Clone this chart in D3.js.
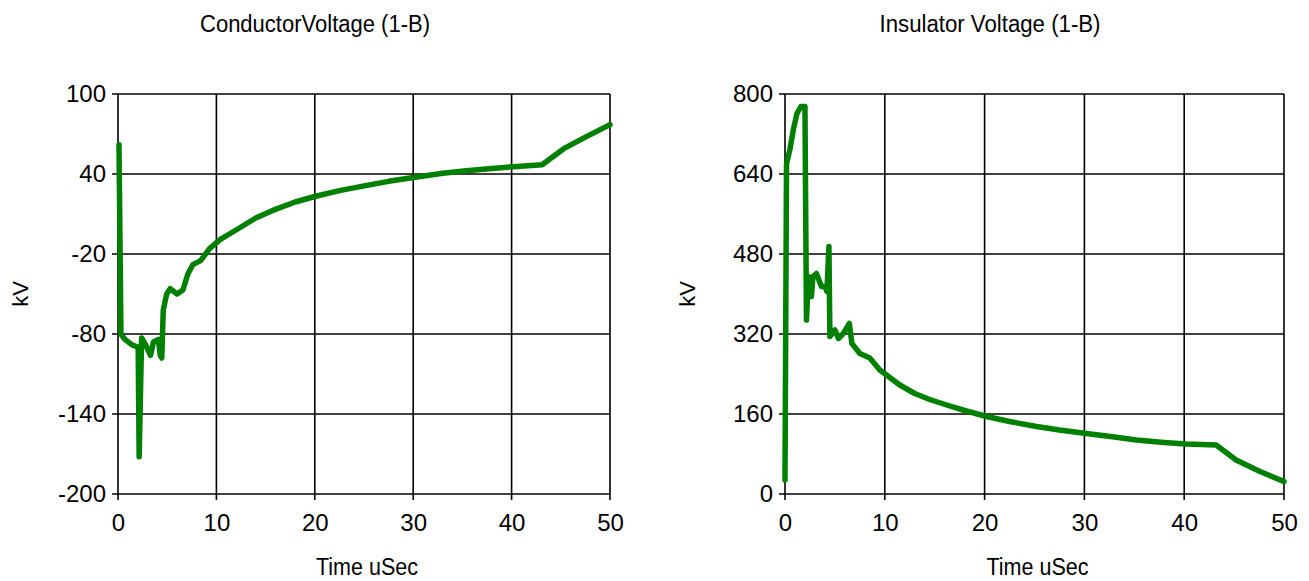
<!DOCTYPE html>
<html>
<head>
<meta charset="utf-8">
<script src="https://cdn.jsdelivr.net/npm/d3@7"></script>
<style>
  html, body { margin: 0; padding: 0; background: #fff; }
  svg { display: block; }
  text { font-family: "Liberation Sans", Arial, sans-serif; fill: #000; }
</style>
</head>
<body>
<svg id="chart" width="1309" height="581"></svg>
<script>
// ---- Data ----
const xTicks = [0, 10, 20, 30, 40, 50];

const condTitle = "ConductorVoltage (1-B)";
const condYTicks = [-200, -140, -80, -20, 40, 100];
const condT = [0.1, 0.3, 0.7, 1.4, 2.05, 2.15, 2.4, 2.8, 3.3, 3.6, 4.1, 4.3, 4.45, 4.6, 4.95, 5.3, 6.0, 6.6, 7.1, 7.6, 8.4, 9.3, 10.4, 12, 14, 16, 18, 20.2, 22.5, 25.3, 27.5, 30.2, 33, 35.4, 38, 40.2, 43.1, 45.3, 47.6, 50];
const condV = [62, -80, -84, -88, -90, -172, -83, -88, -96, -86, -84, -96, -98, -62, -50, -46, -50, -47, -35, -28, -25, -16, -9, -2, 7, 13.5, 19, 23.5, 27.5, 31.5, 34.5, 37.5, 40.5, 42.5, 44.2, 45.5, 47, 59, 68, 77];

const insTitle = "Insulator Voltage (1-B)";
const insYTicks = [0, 160, 320, 480, 640, 800];
const insT = [0, 0.15, 0.5, 0.85, 1.2, 1.6, 2.0, 2.15, 2.35, 2.65, 2.8, 3.15, 3.65, 4.0, 4.2, 4.4, 4.5, 5.0, 5.35, 5.85, 6.45, 6.7, 7.5, 8.5, 9.5, 10.3, 11.5, 13, 14.5, 16.2, 18, 20.2, 22.5, 25.2, 27.5, 30.2, 33, 35.2, 38, 40.2, 43.2, 45.2, 47.6, 50];
const insV = [28, 660, 690, 730, 761, 775, 775, 348, 435, 395, 435, 441, 415, 415, 405, 495, 315, 328, 311, 321, 341, 301, 281, 272, 248, 236, 218, 201, 189, 178, 167, 155, 145, 135, 128, 121, 114, 108, 103, 100, 98, 68, 45, 25];

const xLabel = "Time uSec";
const yLabel = "kV";

// ---- Drawing ----
const svg = d3.select("#chart");

function drawPanel(cfg) {
  const { x0, x1, y0, y1, yTicks, T, V, title, titleX, titleLen } = cfg;
  const x = d3.scaleLinear().domain([0, 50]).range([x0, x1]);
  const y = d3.scaleLinear().domain([yTicks[0], yTicks[yTicks.length - 1]]).range([y1, y0]);
  const g = svg.append("g");

  // grid
  const grid = g.append("g");
  grid.selectAll("line.v").data(xTicks).join("line")
    .attr("x1", d => x(d)).attr("x2", d => x(d))
    .attr("y1", y0).attr("y2", y1 + 6)
    .attr("stroke", "#000").attr("stroke-width", 1.6);
  grid.selectAll("line.h").data(yTicks).join("line")
    .attr("x1", x0 - 6).attr("x2", x1)
    .attr("y1", d => y(d)).attr("y2", d => y(d))
    .attr("stroke", "#000").attr("stroke-width", 1.6);

  const fmt = d => String(d);
  const ax = g.append("g").attr("transform", `translate(0,${y1})`)
    .call(d3.axisBottom(x).tickValues(xTicks).tickFormat(fmt).tickSize(6).tickPadding(14));
  const ay = g.append("g").attr("transform", `translate(${x0},0)`)
    .call(d3.axisLeft(y).tickValues(yTicks).tickFormat(fmt).tickSize(6).tickPadding(6));
  [ax, ay].forEach(a => {
    a.select(".domain").remove();
    a.selectAll(".tick line").remove();
    a.selectAll("text").attr("font-size", 24).attr("fill", "#000")
      .attr("font-family", "Liberation Sans, Arial, sans-serif");
  });

  // line
  const line = d3.line().x(d => x(d[0])).y(d => y(d[1]));
  g.append("path")
    .datum(T.map((t, i) => [t, V[i]]))
    .attr("d", line)
    .attr("fill", "none")
    .attr("stroke", "#008000")
    .attr("stroke-width", 5.5)
    .attr("stroke-linejoin", "round")
    .attr("stroke-linecap", "round");

  // title
  g.append("text").attr("x", titleX).attr("y", 32).attr("text-anchor", "middle")
    .attr("font-size", 23).attr("textLength", titleLen).attr("lengthAdjust", "spacingAndGlyphs")
    .text(title);
  // x label
  g.append("text").attr("x", (x0 + x1) / 2 + 3).attr("y", 575).attr("text-anchor", "middle")
    .attr("font-size", 23).attr("textLength", 102).attr("lengthAdjust", "spacingAndGlyphs")
    .text(xLabel);
  // y label
  g.append("text").attr("transform", `translate(${x0 - 90},${(y0 + y1) / 2}) rotate(-90)`)
    .attr("text-anchor", "middle").attr("font-size", 22)
    .text(yLabel);
}

drawPanel({ x0: 118, x1: 610, y0: 94, y1: 494, yTicks: condYTicks, T: condT, V: condV,
  title: condTitle, titleX: 315, titleLen: 230 });
drawPanel({ x0: 785, x1: 1284, y0: 94, y1: 494, yTicks: insYTicks, T: insT, V: insV,
  title: insTitle, titleX: 990, titleLen: 221 });
</script>
</body>
</html>
